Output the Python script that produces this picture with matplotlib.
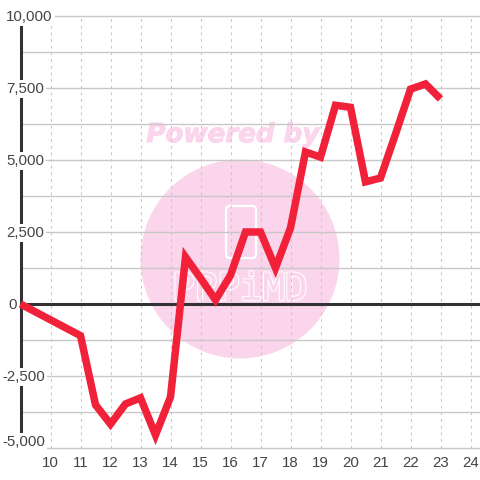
import matplotlib
matplotlib.use('Agg')
import matplotlib.pyplot as plt
from matplotlib.patches import Circle, FancyBboxPatch
from matplotlib.ticker import MultipleLocator
from matplotlib.transforms import Affine2D
import matplotlib.patheffects as pe

hours = [9, 11, 11.5, 12, 12.5, 13, 13.5, 14, 14.5, 15, 15.5, 16, 16.5, 17, 17.5,
         18, 18.5, 19, 19.5, 20, 20.5, 21, 21.5, 22, 22.5, 23]
values = [0, -1100, -3500, -4170, -3470, -3260, -4550, -3230, 1630, 900, 140, 1000, 2500, 2500, 1250,
          2640, 5280, 5100, 6900, 6830, 4240, 4375, 5900, 7460, 7640, 7120]

x_ticks = list(range(10, 25))
y_ticks = [10000, 7500, 5000, 2500, 0, -2500, -5000]
y_labels = ['10,000', '7,500', '5,000', '2,500', '0', '-2,500', '-5,000']

DARK = '#333333'
GRID = '#c8c8c8'
RED = '#f02138'
PINK = '#fbd5ec'

plt.rcParams['font.family'] = ['Liberation Sans', 'DejaVu Sans']

fig = plt.figure(figsize=(4.8, 4.8), dpi=100)
left, right, top, bottom = 20.5, 480, 16, 448
ax = fig.add_axes([left / 480, 1 - bottom / 480, (right - left) / 480, (bottom - top) / 480])
ax.set_xlim(9, 9 + (right - left) / 30)
ax.set_ylim(-5000, 10000)

# pixel coords with y going down, for the watermark
px = Affine2D().scale(1, -1).translate(0, 480)

ax.add_patch(Circle((240, 259), 99.5, color=PINK, lw=0, transform=px, clip_on=False, zorder=0.1))
ax.text(233, 135, 'Powered by', transform=px, color=PINK, fontsize=18.8, family='DejaVu Sans',
        weight='bold', style='oblique', ha='center', va='center', zorder=0.2,
        path_effects=[pe.withStroke(linewidth=0.8, foreground=PINK)])
ax.add_patch(FancyBboxPatch((226, 206), 30, 52, boxstyle='round,pad=0,rounding_size=4', fc='none',
                            ec='white', lw=1.6, transform=px, zorder=0.2))
ax.text(240, 290, 'PPPiMD', transform=px, color=PINK, fontsize=27, family='DejaVu Sans Mono',
        ha='center', va='center', zorder=0.2,
        path_effects=[pe.withStroke(linewidth=1.8, foreground='white'), pe.Normal()])

ax.set_xticks(x_ticks)
ax.yaxis.set_major_locator(MultipleLocator(1250))
ax.set_yticklabels([])
ax.tick_params(axis='both', length=0)
ax.tick_params(axis='x', labelsize=10.8, labelcolor='#444444', pad=6)
ax.set_axisbelow(True)
ax.grid(axis='y', color=GRID, lw=1, clip_on=False)
ax.grid(axis='x', color=GRID, lw=0.8, ls=(0, (2.5, 3.5)))
for gl in ax.get_ygridlines():
    gl.set_clip_on(False)

for s in ['top', 'right', 'bottom']:
    ax.spines[s].set_visible(False)
ax.spines['left'].set_color(DARK)
ax.spines['left'].set_linewidth(2.2)

ax.axhline(0, color=DARK, lw=2.2, zorder=2)
ax.plot(hours, values, color=RED, lw=5.4, solid_joinstyle='miter', solid_capstyle='butt',
        clip_on=False, zorder=2.8)

for val, lab in zip(y_ticks, y_labels):
    dx = -18.5 if lab.startswith('-') else (-12.5 if lab == '0' else -14.5)
    dy = 6 if val == -5000 else -1
    ax.annotate(lab, xy=(0, val), xycoords=ax.get_yaxis_transform(), xytext=(dx, dy),
                textcoords='offset pixels', ha='left', va='center', fontsize=10.8, color='#444444',
                annotation_clip=False, zorder=3,
                bbox=dict(fc='white', ec='none', pad=1.5))

fig.savefig('out.png', dpi=100)
